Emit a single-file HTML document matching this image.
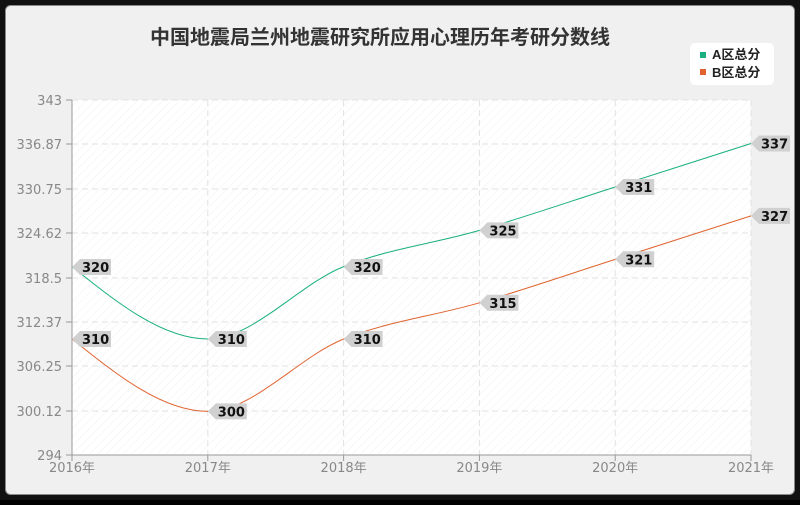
<!DOCTYPE html>
<html><head><meta charset="utf-8"><style>
body{margin:0;width:800px;height:500px;overflow:hidden;background:#000}
text{font-family:"DejaVu Sans","Noto Sans CJK SC",sans-serif}
.t{font-family:"Liberation Sans","Noto Sans CJK SC",sans-serif}
</style></head><body>
<svg width="800" height="500" viewBox="0 0 800 500" xmlns="http://www.w3.org/2000/svg">
<defs>
<pattern id="h" width="6" height="6" patternUnits="userSpaceOnUse" patternTransform="rotate(45)">
<rect width="6" height="6" fill="#fff"/><line x1="0" y1="0" x2="0" y2="6" stroke="#f0f0f0" stroke-width="1"/>
</pattern>
</defs>
<rect x="0" y="0" width="800" height="500" fill="#111"/>
<rect x="5.5" y="5.5" width="789" height="489" rx="5" fill="#f0f0f0" stroke="#8a8a8a" stroke-width="1"/>
<rect x="72" y="100" width="679" height="355" fill="url(#h)"/>
<text class="t" x="380" y="44" text-anchor="middle" font-size="20" font-weight="bold" fill="#333">中国地震局兰州地震研究所应用心理历年考研分数线</text>
<rect x="690" y="43" width="84" height="42" rx="5" fill="#fff"/>
<rect x="700" y="52" width="6" height="6" fill="#1aaf80"/>
<text class="t" x="712" y="59" font-size="13" font-weight="bold" fill="#222">A区总分</text>
<rect x="700" y="69" width="6" height="6" fill="#e0632f"/>
<text class="t" x="712" y="77" font-size="13" font-weight="bold" fill="#222">B区总分</text>
<g stroke="#e2e2e2" stroke-dasharray="6,4" stroke-width="1">
<line x1="72" y1="100" x2="751" y2="100"/><line x1="72" y1="144" x2="751" y2="144"/>
<line x1="72" y1="189" x2="751" y2="189"/><line x1="72" y1="233" x2="751" y2="233"/>
<line x1="72" y1="278" x2="751" y2="278"/><line x1="72" y1="322" x2="751" y2="322"/>
<line x1="72" y1="366" x2="751" y2="366"/><line x1="72" y1="411" x2="751" y2="411"/>
<line x1="207.8" y1="100" x2="207.8" y2="455"/><line x1="343.6" y1="100" x2="343.6" y2="455"/>
<line x1="479.4" y1="100" x2="479.4" y2="455"/><line x1="615.2" y1="100" x2="615.2" y2="455"/>
<line x1="751" y1="100" x2="751" y2="455"/>
</g>
<g stroke="#999" stroke-width="1">
<line x1="72" y1="100" x2="72" y2="455"/><line x1="72" y1="455" x2="751" y2="455"/>
<line x1="66" y1="100" x2="72" y2="100"/><line x1="66" y1="144" x2="72" y2="144"/>
<line x1="66" y1="189" x2="72" y2="189"/><line x1="66" y1="233" x2="72" y2="233"/>
<line x1="66" y1="278" x2="72" y2="278"/><line x1="66" y1="322" x2="72" y2="322"/>
<line x1="66" y1="366" x2="72" y2="366"/><line x1="66" y1="411" x2="72" y2="411"/>
<line x1="66" y1="455" x2="72" y2="455"/>
<line x1="72" y1="455" x2="72" y2="461"/><line x1="207.8" y1="455" x2="207.8" y2="461"/>
<line x1="343.6" y1="455" x2="343.6" y2="461"/><line x1="479.4" y1="455" x2="479.4" y2="461"/>
<line x1="615.2" y1="455" x2="615.2" y2="461"/><line x1="751" y1="455" x2="751" y2="461"/>
</g>
<g font-size="13" fill="#888" text-anchor="end">
<text x="62" y="105">343</text><text x="62" y="149">336.87</text><text x="62" y="194">330.75</text>
<text x="62" y="238">324.62</text><text x="62" y="283">318.5</text><text x="62" y="327">312.37</text>
<text x="62" y="371">306.25</text><text x="62" y="416">300.12</text><text x="62" y="460">294</text>
</g>
<g font-size="13" fill="#888" text-anchor="middle">
<text x="72" y="472">2016年</text><text x="207.8" y="472">2017年</text><text x="343.6" y="472">2018年</text>
<text x="479.4" y="472">2019年</text><text x="615.2" y="472">2020年</text><text x="751" y="472">2021年</text>
</g>
<path d="M72,266.6 C117.3,302.8 162.5,339 207.8,339 C253.1,339 298.3,284.7 343.6,266.6 C388.9,248.5 434.1,243.7 479.4,230.4 C524.7,217.1 569.9,201.5 615.2,187 C660.5,172.5 705.7,158 751,143.5" fill="none" stroke="#1aaf80" stroke-width="1"/>
<path d="M72,266.6 C117.3,302.8 162.5,339 207.8,339 C253.1,339 298.3,284.7 343.6,266.6 C388.9,248.5 434.1,243.7 479.4,230.4 C524.7,217.1 569.9,201.5 615.2,187 C660.5,172.5 705.7,158 751,143.5" fill="none" stroke="#e0632f" stroke-width="1" transform="translate(0,72.4)"/>
<g font-size="13" font-weight="bold" fill="#111">
<g transform="translate(72,267)"><path d="M0,0 L8,-8 L39,-8 L39,8 L8,8 Z" fill="#d0d0d0"/><text x="10" y="5">320</text></g>
<g transform="translate(207.8,339)"><path d="M0,0 L8,-8 L39,-8 L39,8 L8,8 Z" fill="#d0d0d0"/><text x="10" y="5">310</text></g>
<g transform="translate(343.6,267)"><path d="M0,0 L8,-8 L39,-8 L39,8 L8,8 Z" fill="#d0d0d0"/><text x="10" y="5">320</text></g>
<g transform="translate(479.4,230.4)"><path d="M0,0 L8,-8 L39,-8 L39,8 L8,8 Z" fill="#d0d0d0"/><text x="10" y="5">325</text></g>
<g transform="translate(615.2,187)"><path d="M0,0 L8,-8 L39,-8 L39,8 L8,8 Z" fill="#d0d0d0"/><text x="10" y="5">331</text></g>
<g transform="translate(751,143.5)"><path d="M0,0 L8,-8 L39,-8 L39,8 L8,8 Z" fill="#d0d0d0"/><text x="10" y="5">337</text></g>
<g transform="translate(72,339)"><path d="M0,0 L8,-8 L39,-8 L39,8 L8,8 Z" fill="#d0d0d0"/><text x="10" y="5">310</text></g>
<g transform="translate(207.8,411.4)"><path d="M0,0 L8,-8 L39,-8 L39,8 L8,8 Z" fill="#d0d0d0"/><text x="10" y="5">300</text></g>
<g transform="translate(343.6,339)"><path d="M0,0 L8,-8 L39,-8 L39,8 L8,8 Z" fill="#d0d0d0"/><text x="10" y="5">310</text></g>
<g transform="translate(479.4,302.8)"><path d="M0,0 L8,-8 L39,-8 L39,8 L8,8 Z" fill="#d0d0d0"/><text x="10" y="5">315</text></g>
<g transform="translate(615.2,259.3)"><path d="M0,0 L8,-8 L39,-8 L39,8 L8,8 Z" fill="#d0d0d0"/><text x="10" y="5">321</text></g>
<g transform="translate(751,215.9)"><path d="M0,0 L8,-8 L39,-8 L39,8 L8,8 Z" fill="#d0d0d0"/><text x="10" y="5">327</text></g>
</g>
</svg>
</body></html>
